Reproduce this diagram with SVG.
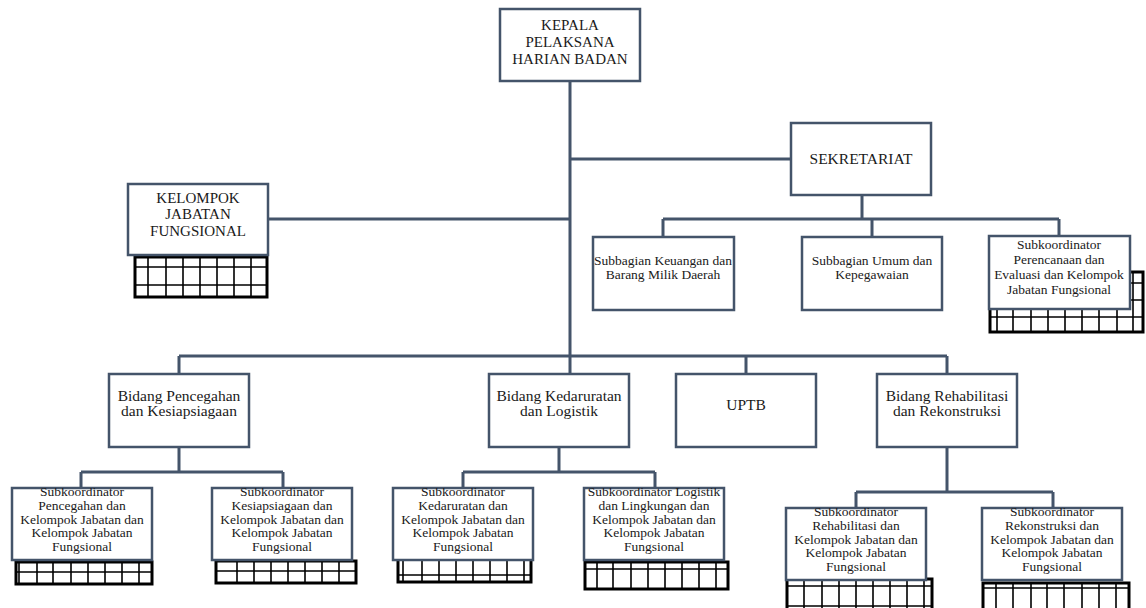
<svg xmlns="http://www.w3.org/2000/svg" width="1146" height="608" viewBox="0 0 1146 608">
<style>
.bg{fill:#ffffff}
.box{fill:#ffffff;stroke:#44546A;stroke-width:2.5}
.con{fill:none;stroke:#44546A;stroke-width:3}
.go{fill:#ffffff;stroke:#000000;stroke-width:3}
.gi{fill:none;stroke:#000000;stroke-width:1.6}
text{font-family:'Liberation Serif','DejaVu Serif',serif;fill:#1a1a1a;text-anchor:middle}
.t15{font-size:15px}
.t16{font-size:15.5px}
.t13{font-size:13.5px}
</style>
<defs>
<clipPath id="cA"><rect x="12" y="488" width="140" height="72"/></clipPath>
<clipPath id="cB"><rect x="212" y="488" width="140" height="72"/></clipPath>
<clipPath id="cC"><rect x="393" y="488" width="140" height="72"/></clipPath>
<clipPath id="cD"><rect x="584" y="488" width="140" height="72"/></clipPath>
<clipPath id="cE"><rect x="786" y="508" width="140" height="72"/></clipPath>
<clipPath id="cF"><rect x="982" y="508" width="140" height="72"/></clipPath>
</defs>
<rect class="bg" x="0" y="0" width="1146" height="608"/>

<g id="connectors">
<path class="con" d="M570 82V374"/>
<path class="con" d="M570 159H791"/>
<path class="con" d="M268 219H570"/>
<path class="con" d="M862 195V219M663 219H1059M663 219V237M872 219V237M1059 219V236"/>
<path class="con" d="M179 356H947M179 356V374M746 356V374M947 356V374"/>
<path class="con" d="M179 447V472M81 472H283M81 472V488M283 472V488"/>
<path class="con" d="M559 447V472M463 472H655M463 472V488M655 472V488"/>
<path class="con" d="M947 447V492M856 492H1053M856 492V508M1053 492V508"/>
</g>

<g id="kepala">
<rect class="box" x="500" y="9" width="140" height="72"/>
<text class="t15" x="570" y="30" font-family="Liberation Serif, serif">KEPALA</text>
<text class="t15" x="570" y="47" font-family="Liberation Serif, serif">PELAKSANA</text>
<text class="t15" x="570" y="64" font-family="Liberation Serif, serif">HARIAN BADAN</text>
</g>

<g id="sekretariat">
<rect class="box" x="791" y="123" width="140" height="72"/>
<text class="t16" x="861" y="164">SEKRETARIAT</text>
</g>

<g id="kjf">
<g class="grid">
<rect class="go" x="135" y="257" width="132" height="40"/>
<path class="gi" d="M148 257V297M166 257V297M183 257V297M200 257V297M217 257V297M234 257V297M251 257V297M135 267H267M135 285H267"/>
</g>
<rect class="box" x="128" y="184" width="140" height="71"/>
<text class="t15" x="198" y="203">KELOMPOK</text>
<text class="t15" x="198" y="219">JABATAN</text>
<text class="t15" x="198" y="236">FUNGSIONAL</text>
</g>

<g id="subbagian-keuangan">
<rect class="box" x="593" y="237" width="141" height="73"/>
<text class="t13" x="663" y="265">Subbagian Keuangan dan</text>
<text class="t13" x="663" y="279">Barang Milik Daerah</text>
</g>

<g id="subbagian-umum">
<rect class="box" x="802" y="237" width="140" height="73"/>
<text class="t13" x="872" y="265">Subbagian Umum dan</text>
<text class="t13" x="872" y="279">Kepegawaian</text>
</g>

<g id="subkoordinator-perencanaan">
<g class="grid">
<rect class="go" x="990" y="272" width="153" height="60"/>
<path class="gi" d="M997 272V332M1013 272V332M1031 272V332M1048 272V332M1065 272V332M1082 272V332M1099 272V332M1117 272V332M1133 272V332M990 283H1143M990 300H1143M990 317H1143"/>
</g>
<rect class="box" x="989" y="236" width="141" height="73"/>
<text class="t13" x="1059" y="249">Subkoordinator</text>
<text class="t13" x="1059" y="264">Perencanaan dan</text>
<text class="t13" x="1059" y="279">Evaluasi dan Kelompok</text>
<text class="t13" x="1059" y="294">Jabatan Fungsional</text>
</g>

<g id="bidang-pencegahan">
<rect class="box" x="109" y="374" width="140" height="73"/>
<text class="t16" x="179" y="401">Bidang Pencegahan</text>
<text class="t16" x="179" y="416">dan Kesiapsiagaan</text>
</g>

<g id="bidang-kedaruratan">
<rect class="box" x="489" y="374" width="140" height="73"/>
<text class="t16" x="559" y="401">Bidang Kedaruratan</text>
<text class="t16" x="559" y="416">dan Logistik</text>
</g>

<g id="uptb">
<rect class="box" x="676" y="374" width="140" height="73"/>
<text class="t16" x="746" y="410">UPTB</text>
</g>

<g id="bidang-rehabilitasi">
<rect class="box" x="877" y="374" width="140" height="73"/>
<text class="t16" x="947" y="401">Bidang Rehabilitasi</text>
<text class="t16" x="947" y="416">dan Rekonstruksi</text>
</g>

<g id="sub-pencegahan">
<g class="grid">
<rect class="go" x="16" y="562" width="136" height="22"/>
<path class="gi" d="M19 562V584M37 562V584M53 562V584M71 562V584M88 562V584M105 562V584M122 562V584M139 562V584M16 572H152"/>
</g>
<rect class="box" x="12" y="488" width="140" height="72"/>
<g clip-path="url(#cA)">
<text class="t13" x="82" y="496">Subkoordinator</text>
<text class="t13" x="82" y="510">Pencegahan dan</text>
<text class="t13" x="82" y="524">Kelompok Jabatan dan</text>
<text class="t13" x="82" y="537">Kelompok Jabatan</text>
<text class="t13" x="82" y="551">Fungsional</text>
</g>
</g>

<g id="sub-kesiapsiagaan">
<g class="grid">
<rect class="go" x="216" y="561" width="140" height="22"/>
<path class="gi" d="M237 561V583M254 561V583M271 561V583M288 561V583M305 561V583M322 561V583M339 561V583M216 571H356"/>
</g>
<rect class="box" x="212" y="488" width="140" height="72"/>
<g clip-path="url(#cB)">
<text class="t13" x="282" y="496">Subkoordinator</text>
<text class="t13" x="282" y="510">Kesiapsiagaan dan</text>
<text class="t13" x="282" y="524">Kelompok Jabatan dan</text>
<text class="t13" x="282" y="537">Kelompok Jabatan</text>
<text class="t13" x="282" y="551">Fungsional</text>
</g>
</g>

<g id="sub-kedaruratan">
<g class="grid">
<rect class="go" x="398" y="556" width="133" height="26"/>
<path class="gi" d="M403 556V582M422 556V582M439 556V582M456 556V582M473 556V582M490 556V582M507 556V582M524 556V582M398 575H531"/>
</g>
<rect class="box" x="393" y="488" width="140" height="72"/>
<g clip-path="url(#cC)">
<text class="t13" x="463" y="496">Subkoordinator</text>
<text class="t13" x="463" y="510">Kedaruratan dan</text>
<text class="t13" x="463" y="524">Kelompok Jabatan dan</text>
<text class="t13" x="463" y="537">Kelompok Jabatan</text>
<text class="t13" x="463" y="551">Fungsional</text>
</g>
</g>

<g id="sub-logistik">
<g class="grid">
<rect class="go" x="585" y="562" width="143" height="27"/>
<path class="gi" d="M597 562V589M613 562V589M631 562V589M648 562V589M665 562V589M682 562V589M699 562V589M716 562V589M585 569H728"/>
</g>
<rect class="box" x="584" y="488" width="140" height="72"/>
<g clip-path="url(#cD)">
<text class="t13" x="654" y="496">Subkoordinator Logistik</text>
<text class="t13" x="654" y="510">dan Lingkungan dan</text>
<text class="t13" x="654" y="524">Kelompok Jabatan dan</text>
<text class="t13" x="654" y="537">Kelompok Jabatan</text>
<text class="t13" x="654" y="551">Fungsional</text>
</g>
</g>

<g id="sub-rehabilitasi">
<g class="grid">
<rect class="go" x="787" y="579" width="145" height="35"/>
<path class="gi" d="M804 579V614M822 579V614M839 579V614M856 579V614M873 579V614M890 579V614M907 579V614M924 579V614M787 586H932M787 606H932"/>
</g>
<rect class="box" x="786" y="508" width="140" height="72"/>
<g clip-path="url(#cE)">
<text class="t13" x="856" y="516">Subkoordinator</text>
<text class="t13" x="856" y="530">Rehabilitasi dan</text>
<text class="t13" x="856" y="544">Kelompok Jabatan dan</text>
<text class="t13" x="856" y="557">Kelompok Jabatan</text>
<text class="t13" x="856" y="571">Fungsional</text>
</g>
</g>

<g id="sub-rekonstruksi">
<g class="grid">
<rect class="go" x="983" y="583" width="146" height="31"/>
<path class="gi" d="M996 583V614M1013 583V614M1031 583V614M1047 583V614M1064 583V614M1082 583V614M1099 583V614M1116 583V614M983 588H1129"/>
</g>
<rect class="box" x="982" y="508" width="140" height="72"/>
<g clip-path="url(#cF)">
<text class="t13" x="1052" y="516">Subkoordinator</text>
<text class="t13" x="1052" y="530">Rekonstruksi dan</text>
<text class="t13" x="1052" y="544">Kelompok Jabatan dan</text>
<text class="t13" x="1052" y="557">Kelompok Jabatan</text>
<text class="t13" x="1052" y="571">Fungsional</text>
</g>
</g>
</svg>
